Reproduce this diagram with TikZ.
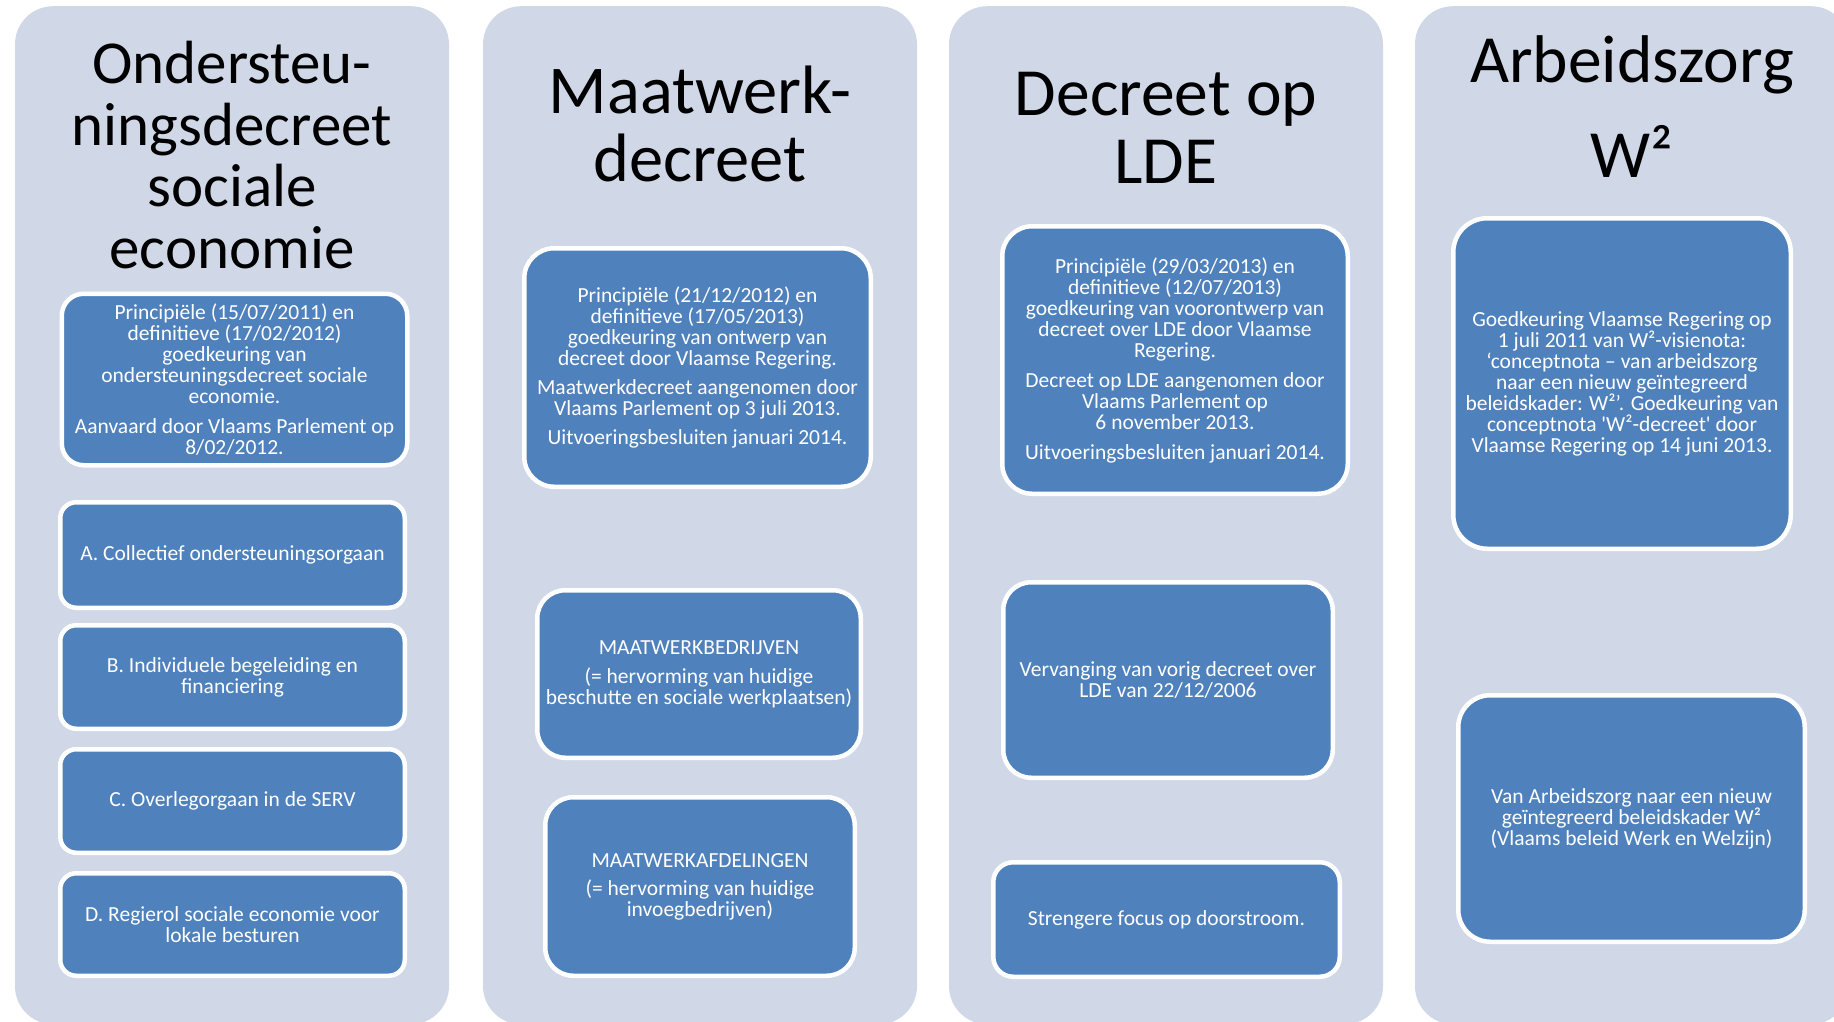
\documentclass[tikz,border=0pt]{standalone}
\usepackage{fontspec}
\setmainfont{Carlito}
\usepackage{xcolor}
\definecolor{lanefill}{HTML}{D0D8E8}
\definecolor{itemfill}{HTML}{4F81BD}

\begin{document}
\begin{tikzpicture}[x=1pt, y=-1pt,
  lane/.style={fill=lanefill, rounded corners=38pt, minimum width=434pt,
    minimum height=1018pt, anchor=north, inner sep=0pt},
  head/.style 2 args={anchor=base, align=center, inner sep=0pt,
    font=\fontsize{#1}{#2}\selectfont},
  item/.style={fill=itemfill, draw=white, line width=4.5pt, text=white,
    align=center, inner sep=2pt, rounded corners=#1,
    font=\fontsize{21.5}{21}\selectfont},
  item/.default=16pt,
  boxsize/.style 2 args={minimum width=#1pt-4.5pt, minimum height=#2pt-4.5pt},
]
\useasboundingbox (0,0) rectangle (1834,1022);
\clip (0,0) rectangle (1834,1022);

% columns
\node (lane1) [lane] at (232,6) {};
\node (lane2) [lane] at (700,6) {};
\node (lane3) [lane] at (1166,6) {};
\node (lane4) [lane] at (1632,6) {};

% titles, placed at the baseline of their last line
\node (head1) [head={61}{61.5}] at (232,268) {Ondersteu-\\ningsdecreet\\sociale\\economie};
\node (head2) [head={68.5}{69}] at (700,182) {Maatwerk-\\decreet};
\node (head3) [head={67.5}{68}] at (1166,183) {Decreet op\\LDE};
\node (head4) [head={67.5}{95}] at (1632,177) {Arbeidszorg\\W²};

% Ondersteuningsdecreet
\node (ond) [item=22pt, boxsize={350}{176}] at (234.5,379.5)
  {Principiële (15/07/2011) en\\definitieve (17/02/2012)\\goedkeuring van\\ondersteuningsdecreet sociale\\economie.\\[9pt]Aanvaard door Vlaams Parlement op\\8/02/2012.};
\node (ondA) [item, boxsize={349}{110}] at (232.5,555) {A. Collectief ondersteuningsorgaan};
\node (ondB) [item, boxsize={349}{108}] at (232.5,677) {B. Individuele begeleiding en\\financiering};
\node (ondC) [item, boxsize={349}{108}] at (232.5,801) {C. Overlegorgaan in de SERV};
\node (ondD) [item, boxsize={349}{107}] at (232.5,924.5) {D. Regierol sociale economie voor\\lokale besturen};

% Maatwerkdecreet
\node (mw) [item=30pt, boxsize={351}{243}] at (697.5,367.5)
  {Principiële (21/12/2012) en\\definitieve (17/05/2013)\\goedkeuring van ontwerp van\\decreet door Vlaamse Regering.\\[8pt]Maatwerkdecreet aangenomen door\\Vlaams Parlement op 3 juli 2013.\\[8pt]Uitvoeringsbesluiten januari 2014.};
\node (mwbed) [item=28pt, boxsize={328}{172}] at (699,674)
  {MAATWERKBEDRIJVEN\\[8pt](= hervorming van huidige\\beschutte en sociale werkplaatsen)};
\node (mwafd) [item=28pt, boxsize={314}{183}] at (700,886.5)
  {MAATWERKAFDELINGEN\\[7pt](= hervorming van huidige\\invoegbedrijven)};

% Decreet op LDE
\node (lde) [item=30pt, boxsize={350}{272}] at (1175,360)
  {Principiële (29/03/2013) en\\definitieve (12/07/2013)\\goedkeuring van voorontwerp van\\decreet over LDE door Vlaamse\\Regering.\\[9pt]Decreet op LDE aangenomen door\\Vlaams Parlement op\\6 november 2013.\\[9pt]Uitvoeringsbesluiten januari 2014.};
\node (ldevv) [item=28pt, boxsize={334}{200}] at (1168,680)
  {Vervanging van vorig decreet over\\LDE van 22/12/2006};
\node (ldedr) [item=20pt, boxsize={351}{119}] at (1166.5,919.5)
  {Strengere focus op doorstroom.};

% Arbeidszorg W2
\node (w2) [item=34pt, boxsize={342}{335}] at (1622,383.5)
  {Goedkeuring Vlaamse Regering op\\1 juli 2011 van W²-visienota:\\‘conceptnota – van arbeidszorg\\naar een nieuw geïntegreerd\\beleidskader: W²’. Goedkeuring van\\conceptnota \textquotesingle W²-decreet\textquotesingle{} door\\Vlaamse Regering op 14 juni 2013.};
\node (w2kader) [item=32pt, boxsize={351}{251}] at (1631.5,818.5)
  {Van Arbeidszorg naar een nieuw\\geïntegreerd beleidskader W²\\(Vlaams beleid Werk en Welzijn)};

\end{tikzpicture}
\end{document}
